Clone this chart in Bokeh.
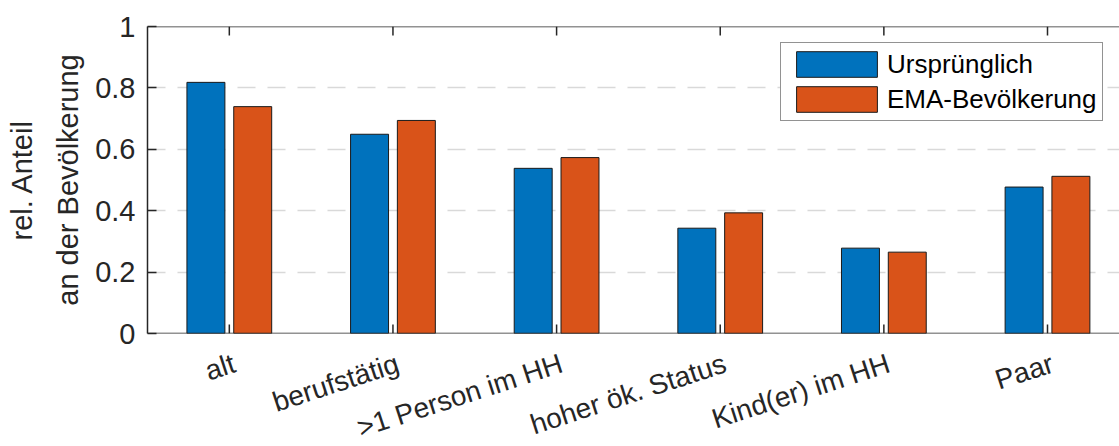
import numpy as np
from bokeh.plotting import figure
from bokeh.layouts import column
from bokeh.models import (Range1d, FixedTicker, Legend, LegendItem,
                          ColumnDataSource, Span)
from bokeh.embed import file_html
from bokeh.resources import INLINE

categories = ["alt", "berufstätig", ">1 Person im HH", "hoher ök. Status",
              "Kind(er) im HH", "Paar"]
urspruenglich = [0.818, 0.649, 0.538, 0.343, 0.278, 0.477]
ema_bevoelkerung = [0.739, 0.694, 0.573, 0.393, 0.265, 0.512]
y_ticks = [0, 0.2, 0.4, 0.6, 0.8, 1]
y_tick_labels = ["0", "0.2", "0.4", "0.6", "0.8", "1"]
series_names = ["Ursprünglich", "EMA-Bevölkerung"]
y_title = "rel. Anteil\nan der Bevölkerung"

FONT = "Liberation Sans"
TXT = "#262626"
BLUE = "#0072BD"
ORANGE = "#D95319"

pos = np.arange(1, len(categories) + 1)
offset = 0.143
bar_w = 0.232
tick_len = 9 / 307.0
label_shift = 0.03     # rotated labels end just right of the tick
bottom_pad = 16        # room under the axes for the "0" tick label
label_drop = 29        # px below the x axis line

src = ColumnDataSource(dict(
    x1=pos - offset, x2=pos + offset,
    u=urspruenglich, e=ema_bevoelkerung))

p = figure(width=1119, height=333 + bottom_pad, output_backend="svg",
           toolbar_location=None,
           x_range=Range1d(0.5, 6.44), y_range=Range1d(0, 1),
           x_axis_type=None,
           min_border_left=147, min_border_top=26, min_border_right=0,
           min_border_bottom=bottom_pad)
p.outline_line_color = None
p.background_fill_color = "white"

# grid
p.xgrid.ticker = FixedTicker(ticks=list(pos))
p.ygrid.ticker = FixedTicker(ticks=y_ticks)
for g in (p.xgrid, p.ygrid):
    g.grid_line_color = "#d9d9d9"
    g.grid_line_dash = "18 12"
    g.grid_line_width = 1.5

r1 = p.vbar(x="x1", top="u", width=bar_w, source=src, fill_color=BLUE,
            line_color="#1a1a1a", line_width=1)
r2 = p.vbar(x="x2", top="e", width=bar_w, source=src, fill_color=ORANGE,
            line_color="#1a1a1a", line_width=1)

# frame lines (top / bottom) and inward x ticks
for loc in (0, 1):
    p.add_layout(Span(location=loc, dimension="width", line_color=TXT,
                      line_width=1.5))
p.segment(x0=pos, y0=0, x1=pos, y1=tick_len, line_color=TXT, line_width=1.5)
p.segment(x0=pos, y0=1, x1=pos, y1=1 - tick_len, line_color=TXT, line_width=1.5)

# y axis
ya = p.yaxis[0]
ya.ticker = FixedTicker(ticks=y_ticks)
ya.major_label_overrides = {t: l for t, l in zip(y_ticks, y_tick_labels)}
ya.axis_line_color = TXT
ya.axis_line_width = 1.5
ya.major_tick_line_color = TXT
ya.major_tick_line_width = 1.5
ya.major_tick_in = 9
ya.major_tick_out = 0
ya.minor_tick_line_color = None
ya.major_label_text_font = FONT
ya.major_label_text_color = TXT
ya.major_label_text_font_size = "29px"
ya.major_label_standoff = 12
ya.axis_label = y_title
ya.axis_label_text_font = FONT
ya.axis_label_text_font_style = "normal"
ya.axis_label_text_color = TXT
ya.axis_label_text_font_size = "29px"
ya.axis_label_text_line_height = 1.45
ya.axis_label_standoff = 8

legend = Legend(items=[LegendItem(label=series_names[0], renderers=[r1]),
                       LegendItem(label=series_names[1], renderers=[r2])],
                location=(633, 212))
legend.label_text_font = FONT
legend.label_text_font_size = "26px"
legend.label_text_color = "black"
legend.glyph_width = 101
legend.glyph_height = 32
legend.label_standoff = -4
legend.spacing = 3
legend.padding = 5
legend.margin = 0
legend.border_line_color = TXT
legend.border_line_width = 1.5
legend.background_fill_color = "white"
legend.background_fill_alpha = 1
p.add_layout(legend)

# strip below the axes holding the rotated category labels
strip_h = 446 - 333 - bottom_pad
p2 = figure(width=1119, height=strip_h, output_backend="svg",
            toolbar_location=None,
            x_range=p.x_range, y_range=Range1d(-strip_h, 0),
            x_axis_type=None, y_axis_type=None,
            min_border_left=147, min_border_right=0, min_border_top=0,
            min_border_bottom=0)
p2.outline_line_color = None
p2.grid.visible = False
lab_src = ColumnDataSource(dict(x=pos + label_shift,
                                y=np.full(len(pos), -(label_drop - bottom_pad)),
                                t=categories))
p2.text(x="x", y="y", text="t", source=lab_src, angle=np.deg2rad(18),
        text_align="right", text_baseline="middle", text_font_size="28px",
        text_color=TXT, text_font={"value": FONT})

layout = column(p, p2, spacing=0)
open("out.html", "w").write(file_html(layout, INLINE))
